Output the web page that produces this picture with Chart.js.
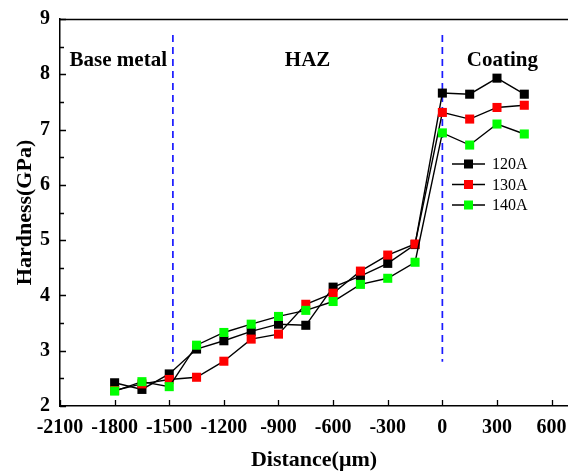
<!DOCTYPE html>
<html>
<head>
<meta charset="utf-8">
<script src="https://cdn.jsdelivr.net/npm/chart.js@4.4.1/dist/chart.umd.min.js"></script>
<style>
  html, body { margin: 0; padding: 0; background: #fff; }
</style>
</head>
<body>
<canvas id="chart" width="568" height="471"></canvas>
<script>
// distance from the coating interface (um)
const distances = [-1800, -1650, -1500, -1350, -1200, -1050, -900, -750, -600, -450, -300, -150, 0, 150, 300, 450];

// hardness (GPa) for each welding current
const hv120 = [2.42, 2.30, 2.58, 3.03, 3.18, 3.35, 3.48, 3.46, 4.15, 4.35, 4.58, 4.92, 7.66, 7.64, 7.93, 7.64];
const hv130 = [2.28, 2.40, 2.48, 2.52, 2.81, 3.21, 3.30, 3.84, 4.04, 4.44, 4.73, 4.93, 7.31, 7.19, 7.40, 7.44];
const hv140 = [2.27, 2.44, 2.35, 3.10, 3.33, 3.48, 3.62, 3.73, 3.89, 4.20, 4.31, 4.60, 6.94, 6.72, 7.10, 6.92];

const seriesNames = ['120A', '130A', '140A'];
const markerColors = ['#000000', '#ff0000', '#00ff00'];

const xTicks = [-2100, -1800, -1500, -1200, -900, -600, -300, 0, 300, 600];
const yTicks = [2, 3, 4, 5, 6, 7, 8, 9];

// zone boundaries (dashed lines) and zone names
const boundaries = [-1480, 0];
const zoneNames = ['Base metal', 'HAZ', 'Coating'];

const serif = "'Liberation Serif', 'Times New Roman', serif";
const toXY = arr => arr.map((v, i) => ({ x: distances[i], y: v }));

const seriesData = [hv120, hv130, hv140];
const datasets = seriesData.map((vals, i) => ({
  label: seriesNames[i],
  data: toXY(vals),
  borderColor: '#000',
  borderWidth: 1.4,
  pointStyle: 'rect',
  pointRadius: 6.4,
  pointBackgroundColor: markerColors[i],
  pointBorderWidth: 0,
  order: 3 - i
}));

boundaries.forEach(b => {
  datasets.push({
    label: 'boundary',
    data: [{ x: b, y: 8.71 }, { x: b, y: 2.8 }],
    borderColor: '#1a1aff',
    borderWidth: 1.7,
    borderDash: [7, 5],
    pointRadius: 0,
    order: 10
  });
});

// inward ticks, top frame line, zone labels and the legend box
const decorations = {
  id: 'decorations',
  afterDraw(chart) {
    const ctx = chart.ctx;
    const x = chart.scales.x, y = chart.scales.y;
    const area = chart.chartArea;
    ctx.save();
    ctx.strokeStyle = '#000';
    ctx.lineWidth = 1.3;
    ctx.beginPath();
    xTicks.forEach(v => {
      const px = Math.round(x.getPixelForValue(v)) + 0.5;
      ctx.moveTo(px, area.bottom);
      ctx.lineTo(px, area.bottom - 6);
    });
    yTicks.forEach(v => {
      const py = Math.round(y.getPixelForValue(v)) + 0.5;
      ctx.moveTo(area.left, py);
      ctx.lineTo(area.left + 6, py);
      if (v < 9) {
        const pm = Math.round(y.getPixelForValue(v + 0.5)) + 0.5;
        ctx.moveTo(area.left, pm);
        ctx.lineTo(area.left + 4, pm);
      }
    });
    ctx.stroke();
    // top frame
    ctx.lineWidth = 1.5;
    ctx.beginPath();
    ctx.moveTo(area.left, area.top + 0.5);
    ctx.lineTo(area.right, area.top + 0.5);
    ctx.stroke();

    // zone labels
    ctx.fillStyle = '#000';
    ctx.font = 'bold 21px ' + serif;
    ctx.textAlign = 'center';
    ctx.textBaseline = 'middle';
    const zoneX = [-1780, -740, 330];
    zoneNames.forEach((n, i) => {
      ctx.fillText(n, x.getPixelForValue(zoneX[i]), y.getPixelForValue(8.24));
    });

    // legend
    ctx.font = '16px ' + serif;
    ctx.textAlign = 'left';
    const lx = 452, ly = 164, step = 20.5;
    seriesNames.forEach((n, i) => {
      const yy = ly + i * step;
      ctx.strokeStyle = '#000';
      ctx.lineWidth = 1.3;
      ctx.beginPath();
      ctx.moveTo(lx, yy);
      ctx.lineTo(lx + 33, yy);
      ctx.stroke();
      ctx.fillStyle = markerColors[i];
      ctx.fillRect(lx + 12, yy - 4.5, 9, 9);
      ctx.fillStyle = '#000';
      ctx.fillText(n, lx + 40, yy + 1);
    });
    ctx.restore();
  }
};

new Chart(document.getElementById('chart'), {
  type: 'line',
  data: { datasets },
  options: {
    responsive: false,
    devicePixelRatio: 1,
    animation: false,
    layout: { autoPadding: false, padding: { top: 19, right: 0, left: 0, bottom: 0 } },
    plugins: { legend: { display: false }, tooltip: { enabled: false } },
    scales: {
      x: {
        type: 'linear',
        min: -2100,
        max: 690,
        afterBuildTicks: s => { s.ticks = xTicks.map(v => ({ value: v })); },
        afterFit: s => { s.height = 65; s.paddingLeft = 0; s.paddingRight = 0; },
        grid: { display: false, drawTicks: false },
        border: { display: true, color: '#000', width: 1.5 },
        ticks: {
          color: '#000',
          font: { family: serif, size: 20, weight: 'bold' },
          padding: 10,
          maxRotation: 0,
          autoSkip: false,
          callback: v => String(v)
        },
        title: {
          display: true,
          text: 'Distance(\u03bcm)',
          color: '#000',
          font: { family: serif, size: 22, weight: 'bold' },
          padding: { top: 0, bottom: -3 }
        }
      },
      y: {
        min: 2,
        max: 9,
        afterBuildTicks: s => { s.ticks = yTicks.map(v => ({ value: v })); },
        afterFit: s => { s.width = 60; s.paddingTop = 0; s.paddingBottom = 0; },
        grid: { display: false, drawTicks: false },
        border: { display: true, color: '#000', width: 1.5 },
        ticks: {
          color: '#000',
          font: { family: serif, size: 20, weight: 'bold' },
          padding: 10,
          callback: v => String(v)
        },
        title: {
          display: true,
          text: 'Hardness(GPa)',
          color: '#000',
          font: { family: serif, size: 22, weight: 'bold' },
          padding: { top: 12, bottom: 0 }
        }
      }
    }
  },
  plugins: [decorations]
});
</script>
</body>
</html>
